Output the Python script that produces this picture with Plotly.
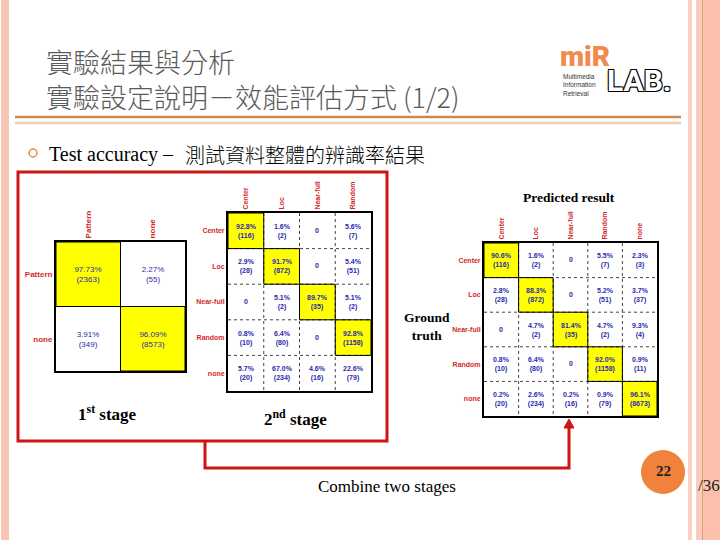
import plotly.graph_objects as go

W, H = 720, 540


def px(x):
    return x / W


def py(y):
    return 1 - y / H


# ---------------- data ----------------
stage1_labels = ["Pattern", "none"]
stage1_pct = [["97.73%", "2.27%"], ["3.91%", "96.09%"]]
stage1_cnt = [[2363, 55], [349, 8573]]

stage2_cols = ["Center", "Loc", "Near-full", "Random"]
stage2_rows = ["Center", "Loc", "Near-full", "Random", "none"]
stage2_pct = [["92.8%", "1.6%", "0", "5.6%"],
              ["2.9%", "91.7%", "0", "5.4%"],
              ["0", "5.1%", "89.7%", "5.1%"],
              ["0.8%", "6.4%", "0", "92.8%"],
              ["5.7%", "67.0%", "4.6%", "22.6%"]]
stage2_cnt = [[116, 2, 0, 7],
              [28, 872, 0, 51],
              [0, 2, 35, 2],
              [10, 80, 0, 1158],
              [20, 234, 16, 79]]

comb_labels = ["Center", "Loc", "Near-full", "Random", "none"]
comb_pct = [["90.6%", "1.6%", "0", "5.5%", "2.3%"],
            ["2.8%", "88.3%", "0", "5.2%", "3.7%"],
            ["0", "4.7%", "81.4%", "4.7%", "9.3%"],
            ["0.8%", "6.4%", "0", "92.0%", "0.9%"],
            ["0.2%", "2.6%", "0.2%", "0.9%", "96.1%"]]
comb_cnt = [[116, 2, 0, 7, 3],
            [28, 872, 0, 51, 37],
            [0, 2, 35, 2, 4],
            [10, 80, 0, 1158, 11],
            [20, 234, 16, 79, 8673]]

LABEL_RED = "#d22a2a"
CELL_BLUE = "#2a2ab0"
SERIF = "Liberation Serif, Times New Roman, serif"
SANS = "Liberation Sans, Arial, sans-serif"

fig = go.Figure()
shapes = []
layout_axes = {}


def add_matrix(idx, rows, cols, pct, cnt, box, dotted, cell_size, lab_size, bold):
    nr, nc = len(rows), len(cols)
    z = [[1 if rows[i] == cols[j] else 0 for j in range(nc)] for i in range(nr)]
    text = [["0" if cnt[i][j] == 0 else f"{pct[i][j]}<br>({cnt[i][j]})"
             for j in range(nc)] for i in range(nr)]
    xa = "x" if idx == 1 else f"x{idx}"
    ya = "y" if idx == 1 else f"y{idx}"
    fig.add_trace(go.Heatmap(
        z=z, x=list(range(nc)), y=list(range(nr)), text=text,
        texttemplate="%{text}",
        textfont=dict(color=CELL_BLUE, size=cell_size, family=SANS,
                      weight="bold" if bold else "normal"),
        colorscale=[[0, "white"], [1, "#ffff00"]], zmin=0, zmax=1,
        showscale=False, xaxis=xa, yaxis=ya, hoverinfo="skip"))
    x0, y0, x1, y1 = box
    layout_axes["xaxis" if idx == 1 else f"xaxis{idx}"] = dict(
        domain=[px(x0), px(x1)], anchor=ya, side="top",
        tickvals=list(range(nc)), ticktext=cols, tickangle=-90,
        tickfont=dict(color=LABEL_RED, size=lab_size, family=SANS, weight="bold"),
        range=[-0.5, nc - 0.5], showgrid=False, zeroline=False,
        showline=True, mirror=True, linecolor="black", linewidth=2,
        ticks="", fixedrange=True)
    layout_axes["yaxis" if idx == 1 else f"yaxis{idx}"] = dict(
        domain=[py(y1), py(y0)], anchor=xa,
        tickvals=list(range(nr)), ticktext=rows,
        tickfont=dict(color=LABEL_RED, size=lab_size, family=SANS, weight="bold"),
        range=[nr - 0.5, -0.5], showgrid=False, zeroline=False,
        showline=True, mirror=True, linecolor="black", linewidth=2,
        ticks="", fixedrange=True)
    dash = "dot" if dotted else "solid"
    lc = "#444" if dotted else "black"
    for k in range(1, nc):
        shapes.append(dict(type="line", xref=xa, yref=ya, x0=k - 0.5, x1=k - 0.5,
                           y0=-0.5, y1=nr - 0.5, line=dict(color=lc, width=1, dash=dash)))
    for k in range(1, nr):
        shapes.append(dict(type="line", xref=xa, yref=ya, y0=k - 0.5, y1=k - 0.5,
                           x0=-0.5, x1=nc - 0.5, line=dict(color=lc, width=1, dash=dash)))
    for i in range(nr):
        for j in range(nc):
            if z[i][j]:
                shapes.append(dict(type="rect", xref=xa, yref=ya,
                                   x0=j - 0.5, x1=j + 0.5, y0=i - 0.5, y1=i + 0.5,
                                   line=dict(color="black", width=1)))


add_matrix(1, stage1_labels, stage1_labels, stage1_pct, stage1_cnt,
           (56, 242, 185, 371), False, 8, 8, False)
add_matrix(2, stage2_rows, stage2_cols, stage2_pct, stage2_cnt,
           (228, 213, 371, 391), True, 7, 7, True)
add_matrix(3, comb_labels, comb_labels, comb_pct, comb_cnt,
           (484, 243, 657, 416), True, 7, 7, True)


def prect(x0, y0, x1, y1, **kw):
    d = dict(type="rect", xref="paper", yref="paper",
             x0=px(x0), x1=px(x1), y0=py(y1), y1=py(y0))
    d.update(kw)
    return d


def pline(x0, y0, x1, y1, color, width):
    return dict(type="line", xref="paper", yref="paper",
                x0=px(x0), x1=px(x1), y0=py(y0), y1=py(y1),
                line=dict(color=color, width=width))


deco = []
# left stripe
deco.append(prect(1, 0, 9, 540, fillcolor="#f7c6b5", line=dict(width=0), layer="below"))
# right stripes
deco.append(prect(688, 0, 692, 540, fillcolor="#f9d0c2", line=dict(width=0), layer="below"))
deco.append(prect(696, 0, 702, 540, fillcolor="#f9cdbd", line=dict(width=0), layer="below"))
deco.append(prect(702, 0, 703.5, 540, fillcolor="#e89a6c", line=dict(width=0), layer="below"))
deco.append(prect(703.5, 0, 720, 540, fillcolor="#fbbfab", line=dict(width=0), layer="below"))
# title rules
deco.append(pline(15, 117, 681, 117, "#c98a50", 2.5))
deco.append(pline(15, 123, 681, 123, "#ead0b4", 2.5))
# bullet ring
deco.append(dict(type="circle", xref="paper", yref="paper",
                 x0=px(29), x1=px(37), y0=py(157), y1=py(149),
                 line=dict(color="#e0904a", width=1.5)))
# red box
deco.append(prect(18, 172, 387, 441, line=dict(color="#cc1515", width=3)))
# connector
deco.append(dict(type="path", xref="paper", yref="paper",
                 path=f"M {px(205)},{py(441)} L {px(205)},{py(468)} L {px(569)},{py(468)} L {px(569)},{py(426)}",
                 line=dict(color="#cc1515", width=3)))
deco.append(dict(type="path", xref="paper", yref="paper",
                 path=f"M {px(564)},{py(428)} L {px(569)},{py(419)} L {px(574)},{py(428)} Z",
                 fillcolor="#cc1515", line=dict(color="#cc1515", width=1)))
# page circle
deco.append(dict(type="circle", xref="paper", yref="paper",
                 x0=px(641), x1=px(685), y0=py(494), y1=py(450),
                 fillcolor="#f0823c", line=dict(width=0)))

ann = []


def text(x, y, s, size, color="black", family=SERIF, xanchor="center", weight="normal", **kw):
    d = dict(x=px(x), y=py(y), xref="paper", yref="paper", text=s, showarrow=False,
             xanchor=xanchor, yanchor="middle",
             font=dict(size=size, color=color, family=family, weight=weight))
    d.update(kw)
    return d


CJK = "Noto Sans CJK TC"
ann.append(text(44, 78.5, "實驗結果與分析<br>實驗設定說明－效能評估方式 (1/2)", 27,
                "#5a5a5a", CJK, "left", 300, align="left"))
ann.append(text(47, 154, "Test accuracy –", 20, "black", SERIF, "left"))
ann.append(text(183, 154, "測試資料整體的辨識率結果", 20, "black", CJK, "left", 300))
ann.append(text(569, 197, "Predicted result", 13.5, "black", SERIF, weight="bold"))
ann.append(text(427, 326, "Ground<br>truth", 13.5, "black", SERIF, weight="bold"))
ann.append(text(107, 413, "1<sup>st</sup> stage", 17, "black", SERIF, weight="bold"))
ann.append(text(295, 418, "2<sup>nd</sup> stage", 17, "black", SERIF, weight="bold"))
ann.append(text(387, 486, "Combine two stages", 17, "black", SERIF))
ann.append(text(663, 471, "22", 15, "#222222", SERIF, weight="bold"))
ann.append(text(696, 485, "/36", 17, "#222222", SERIF, "left"))
# logo
ann.append(text(558, 56, "miR", 28, "#f08a4e", "Roboto, DejaVu Sans", "left", 900))
ann.append(text(605, 80, "LAB.", 30, "white", "Roboto, DejaVu Sans", "left", "bold"))
ann[-1]["font"]["shadow"] = "1px 1px 0 #000, -1px -1px 0 #000, 1px -1px 0 #000, -1px 1px 0 #000"
ann.append(text(561, 85, "Multimedia<br>Information<br>Retrieval", 6.5, "#333333", SANS, "left",
                align="left"))

fig.update_layout(
    width=W, height=H, margin=dict(l=0, r=0, t=0, b=0),
    paper_bgcolor="white", plot_bgcolor="white",
    shapes=deco + shapes, annotations=ann, showlegend=False,
    **layout_axes)

fig.write_html("out.html", config={"displayModeBar": False},
               post_script="document.body.style.margin='0';")
